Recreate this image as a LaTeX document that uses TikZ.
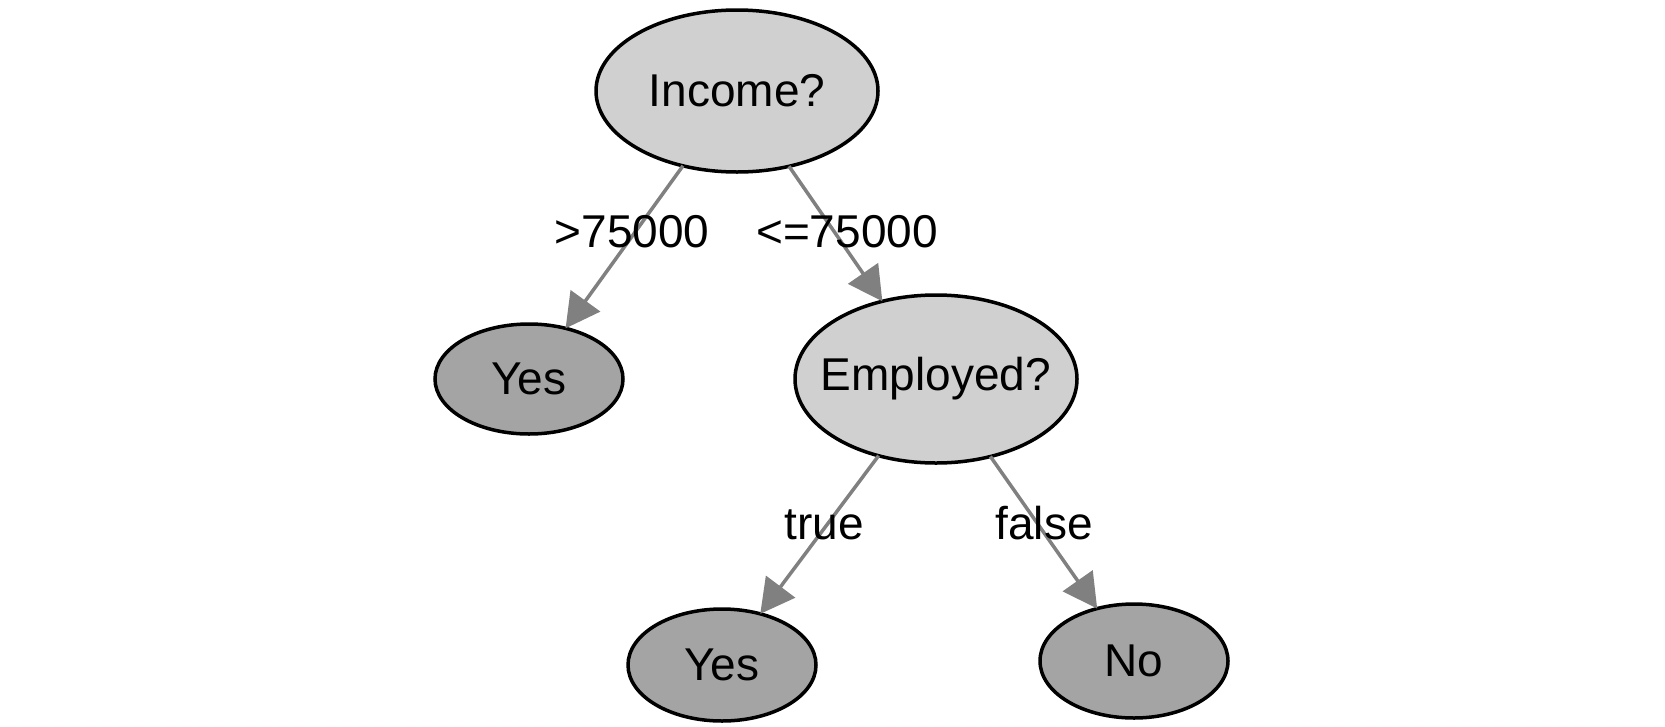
\documentclass[tikz,border=0pt]{standalone}
\usepackage{fontspec}
\setmainfont{Liberation Sans}
\usetikzlibrary{shapes.geometric,arrows.meta}
\definecolor{innergray}{HTML}{D0D0D0}
\definecolor{leafgray}{HTML}{A4A4A4}
\definecolor{edgegray}{HTML}{808080}
\begin{document}
\begin{tikzpicture}[x=1pt,y=-1pt,
  treenode/.style={ellipse, draw=black, line width=3.5pt, inner sep=0pt, outer sep=0pt,
    font=\fontsize{46}{55}\selectfont},
  innernode/.style={treenode, fill=innergray},
  leafnode/.style={treenode, fill=leafgray},
  treeedge/.style={draw=edgegray, line width=3.5pt,
    -{Triangle[length=34pt,width=36pt,fill=edgegray]}},
  edgelabel/.style={font=\fontsize{46}{55}\selectfont, inner sep=0pt, anchor=base}]
\useasboundingbox (0,0) rectangle (1665,726);
\node[innernode, minimum width=282pt, minimum height=162pt] (income) at (737,91) {Income?};
\node[leafnode, minimum width=188pt, minimum height=110pt] (yes1) at (529,379) {Yes};
\node[innernode, inner xsep=-16pt, minimum width=282pt, minimum height=168pt] (employed) at (936,379) {Employed?};
\node[leafnode, minimum width=188pt, minimum height=112pt] (yes2) at (722,665) {Yes};
\node[leafnode, minimum width=188pt, minimum height=114pt] (no) at (1134,661) {No};
\draw[treeedge] (income) -- (yes1);
\draw[treeedge] (income) -- (employed);
\draw[treeedge] (employed) -- (yes2);
\draw[treeedge] (employed) -- (no);
\node[edgelabel] (l1) at (632,247) {>75000};
\node[edgelabel] (l2) at (847,247) {<=75000};
\node[edgelabel] (l3) at (824,539) {true};
\node[edgelabel] (l4) at (1044,539) {false};
\end{tikzpicture}
\end{document}
